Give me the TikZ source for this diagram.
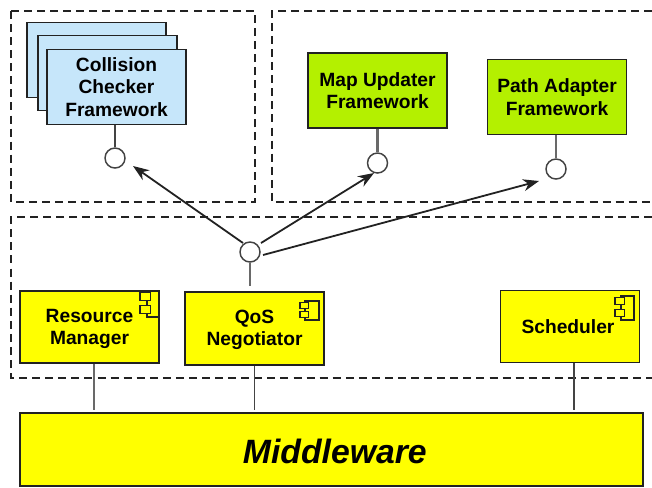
\documentclass[tikz,border=0pt]{standalone}
\usepackage{fontspec}
\setmainfont{Liberation Sans}
\usetikzlibrary{arrows.meta}
\definecolor{ink}{HTML}{222222}
\definecolor{wire}{HTML}{444444}
\definecolor{bluebox}{HTML}{C6E6FA}
\definecolor{limebox}{HTML}{B4F000}
\definecolor{yellowbox}{HTML}{FFFF00}
\newcommand{\compicon}[5]{% x1 x2 y1 y2 for the body, tab overhang
  \draw[icon] (#1,#3) rectangle (#2,#4);
  \pgfmathsetmacro{\tabl}{#1-#5}\pgfmathsetmacro{\tabr}{#1+3.5}
  \pgfmathsetmacro{\tabh}{(#4-#3)/4}
  \draw[icon,fill=yellowbox] (\tabl,#3+0.28*\tabh) rectangle (\tabr,#3+1.48*\tabh);
  \draw[icon,fill=yellowbox] (\tabl,#3+2.2*\tabh) rectangle (\tabr,#3+3.4*\tabh);
}
\tikzset{
  x=0.75pt,y=-0.75pt,
  region/.style={draw=ink,line width=1.1pt,dash pattern=on 6pt off 3.8pt},
  box/.style={draw=ink,line width=1.2pt,minimum width=104.5pt,minimum height=56pt,inner sep=0pt,align=center,text=black,
    font=\fontsize{14.4}{17}\selectfont\bfseries},
  blue/.style={box,fill=bluebox},
  lime/.style={box,fill=limebox},
  yel/.style={box,fill=yellowbox},
  port/.style={circle,draw=ink!85,fill=white,line width=1.1pt,minimum size=15pt,inner sep=0pt},
  wirethin/.style={draw=wire,line width=1.3pt},
  wirethick/.style={draw=wire!80,line width=2pt},
  dep/.style={draw=ink,line width=1.35pt,-{Stealth[length=12pt,width=9pt]}},
  icon/.style={draw=ink,line width=0.8pt},
}
\begin{document}
\begin{tikzpicture}
\useasboundingbox (0,0) rectangle (652,487);
% regions
\draw[region] (11,11) rectangle (255,202);
\draw[region] (652,11) -- (272,11) -- (272,202) -- (652,202);
\draw[region] (652,217) -- (11,217) -- (11,378) -- (652,378);
% stacked collision frames
\node[blue,minimum height=56pt] (cback) at (96.5,60) {};
\node[blue,minimum height=56pt] (cmid) at (107.5,73) {};
\node[blue,minimum height=56.5pt] (cfront) at (116.5,87) {Collision\\Checker\\Framework};
% framework boxes
\node[lime] (map) at (377.5,90.5) {Map Updater\\Framework};
\node[lime] (path) at (557,97) {Path Adapter\\Framework};
% components
\node[yel,minimum height=54pt] (res) at (89.5,327) {\rule{0pt}{13pt}Resource\\Manager};
\node[yel,minimum height=54.5pt] (qos) at (254.5,328.5) {\rule{0pt}{12pt}QoS\\Negotiator};
\node[yel,minimum height=54pt] (sch) at (570,326.5) {Scheduler\hspace*{3pt}};
\node[yel,minimum width=467pt,minimum height=54.5pt,font=\fontsize{25.3}{30}\selectfont\bfseries\itshape] (mid) at (331.5,449.5) {\hspace*{5pt}\rule{0pt}{21pt}Middleware};
% component icons
\compicon{147}{159}{291}{317}{7}
\compicon{305}{319}{301}{320}{5}
\compicon{621}{634}{296}{320}{6}
% ports
\node[port] (pc) at (115,158) {};
\node[port] (pm) at (377.5,163) {};
\node[port] (pp) at (556,169) {};
\node[port] (pq) at (250,252) {};
% arrow ends
\coordinate (tc) at (133,166);
\coordinate (tm) at (374,173);
\coordinate (tp) at (539,181);
\coordinate (sc) at (243,243);
\coordinate (sm) at (261,243);
\coordinate (sp) at (263,255);
% connectors
\draw[wirethin] (pc) -- (cfront.south -| pc);
\draw[wirethick] (pm) -- (map.south -| pm);
\draw[wirethick] (pp) -- (path.south -| pp);
\draw[wirethick,shorten >=4pt] (pq) -- (qos.north -| pq);
\draw[wirethick,shorten >=1.5pt] (res.south -| 94,0) -- (mid.north -| 94,0);
\draw[wirethin,shorten >=1.5pt] (qos.south) -- (mid.north -| qos.south);
\draw[wirethin,shorten >=1.5pt] (sch.south -| 574,0) -- (mid.north -| 574,0);
\draw[dep] (sc) -- (tc);
\draw[dep] (sm) -- (tm);
\draw[dep] (sp) -- (tp);
\end{tikzpicture}
\end{document}
